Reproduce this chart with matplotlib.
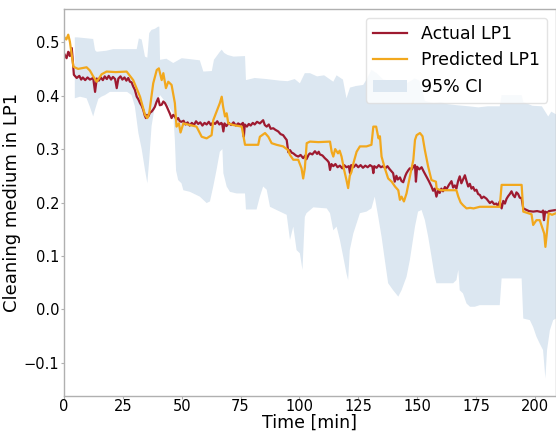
import numpy as np
import matplotlib
matplotlib.use('Agg')
import matplotlib.pyplot as plt
from matplotlib.patches import Patch
from matplotlib.lines import Line2D

# actual LP1 (time in min, value)
t_act = [0, 1.1, 1.8, 2.5, 3.3, 4.2, 5.4, 6.5, 7.3, 8, 9, 10, 11, 12.4, 13.2, 13.9, 14.8, 15.6,
         16.5, 17.3, 18.2, 19, 20, 20.8, 21.7, 22.4, 23.1, 24, 24.8, 25.7, 26.5, 27.3, 28.0,
         28.7, 29.4, 30.1, 30.9, 31.6, 32.3, 33, 33.7, 34.3, 34.8, 35.3, 35.8, 36.5, 37.2,
         37.9, 38.6, 39.3, 40.0, 40.7, 41.5, 42.2, 42.9, 43.6, 44.3, 45, 45.7, 46.4, 47.1,
         47.8, 48.5, 49.2, 49.9, 50.8, 51.6, 52.5, 53.4, 54.3, 55.2, 56.1, 57, 57.9, 58.8,
         59.7, 60.6, 61.5, 62.4, 63.3, 64.2, 65.1, 66, 66.8, 67.2, 67.7, 68.2, 69, 70, 71, 72,
         73, 74, 75, 76.0, 76.4, 76.8, 77.7, 78.5, 79.3, 80.2, 81, 82, 83.2, 84.6, 85.3, 86.1,
         87, 87.8, 88.9, 89.8, 91, 92, 93.1, 93.9, 94.6, 95.3, 96.0, 96.8, 97.4, 98.5, 99.5,
         100.5, 101.6, 102.5, 103.0, 104, 104.5, 105.5, 106.6, 107.5, 108.2, 108.7, 109.8,
         110.8, 111.8, 112.5, 113.0, 113.6, 114.4, 115.3, 116.2, 117.2, 118.2, 119, 120,
         121.0, 121.5, 122, 123, 124, 125, 126, 127, 128, 129, 130, 131.0, 131.4, 131.8,
         132.8, 133.7, 134.6, 135.6, 136.5, 137.4, 138.4, 139.2, 139.8, 140.5, 141.2, 141.8,
         142.7, 143.4, 144.1, 145.0, 145.5, 146.2, 146.9, 147.8, 148.5, 149.1, 149.5, 150.0,
         150.9, 151.9, 152.8, 154.0, 155, 156.1, 156.8, 157.5, 158.2, 158.9, 159.6, 160.3,
         161, 161.8, 162.5, 163.5, 164.6, 165.3, 166, 166.7, 167.4, 168.1, 168.8, 169.5,
         170.3, 171, 171.7, 172.4, 173.1, 173.8, 174.5, 175.2, 175.9, 176.7, 177.4, 178.3,
         179.5, 180.2, 180.9, 181.8, 182.7, 183.7, 184.4, 185.1, 185.9, 186.6, 187.3, 188.0,
         188.7, 189.4, 190.1, 190.8, 191.5, 192.2, 192.9, 193.6, 194.4, 195.1, 196.5, 197.5,
         199.3, 201, 202.9, 203.5, 203.9, 204.4, 205.3, 206, 207.5, 209]
v_act = [0.479, 0.470, 0.482, 0.474, 0.489, 0.439, 0.433, 0.437, 0.430, 0.434, 0.429, 0.434,
         0.430, 0.433, 0.407, 0.432, 0.428, 0.434, 0.429, 0.436, 0.431, 0.437, 0.430, 0.435,
         0.431, 0.414, 0.432, 0.436, 0.430, 0.434, 0.428, 0.433, 0.426, 0.425, 0.417, 0.411,
         0.398, 0.393, 0.386, 0.381, 0.373, 0.363, 0.358, 0.364, 0.361, 0.368, 0.370, 0.374,
         0.379, 0.388, 0.395, 0.382, 0.383, 0.389, 0.386, 0.380, 0.373, 0.366, 0.358, 0.364,
         0.361, 0.355, 0.358, 0.352, 0.351, 0.353, 0.346, 0.350, 0.344, 0.349, 0.345, 0.352,
         0.347, 0.350, 0.344, 0.349, 0.346, 0.351, 0.345, 0.350, 0.347, 0.352, 0.346, 0.349,
         0.347, 0.333, 0.348, 0.343, 0.349, 0.345, 0.350, 0.344, 0.348, 0.345, 0.349, 0.323,
         0.346, 0.342, 0.347, 0.344, 0.349, 0.346, 0.351, 0.348, 0.354, 0.345, 0.342, 0.346,
         0.338, 0.339, 0.336, 0.333, 0.328, 0.326, 0.321, 0.317, 0.294, 0.298, 0.293, 0.292,
         0.288, 0.286, 0.289, 0.283, 0.288, 0.281, 0.290, 0.292, 0.290, 0.296, 0.291, 0.295,
         0.290, 0.288, 0.283, 0.279, 0.275, 0.261, 0.272, 0.268, 0.272, 0.266, 0.269, 0.264,
         0.270, 0.266, 0.268, 0.255, 0.270, 0.266, 0.271, 0.266, 0.270, 0.265, 0.269, 0.266,
         0.270, 0.267, 0.255, 0.268, 0.265, 0.270, 0.266, 0.268, 0.264, 0.268, 0.262, 0.258,
         0.255, 0.239, 0.250, 0.243, 0.247, 0.240, 0.238, 0.250, 0.255, 0.260, 0.264, 0.262,
         0.268, 0.270, 0.239, 0.267, 0.262, 0.266, 0.258, 0.248, 0.240, 0.230, 0.222, 0.226,
         0.211, 0.222, 0.218, 0.226, 0.221, 0.229, 0.225, 0.233, 0.240, 0.228, 0.232, 0.226,
         0.240, 0.249, 0.236, 0.243, 0.251, 0.240, 0.230, 0.235, 0.226, 0.229, 0.222, 0.224,
         0.216, 0.214, 0.208, 0.211, 0.207, 0.203, 0.199, 0.202, 0.197, 0.198, 0.193, 0.202,
         0.189, 0.203, 0.198, 0.207, 0.212, 0.216, 0.221, 0.214, 0.210, 0.219, 0.216, 0.209,
         0.208, 0.189, 0.186, 0.184, 0.183, 0.184, 0.182, 0.185, 0.167, 0.183, 0.181, 0.184,
         0.185, 0.186]

# predicted LP1
t_pred = [0, 1.0, 1.8, 2.5, 4.0, 6, 9.6, 11, 12.4, 13.9, 16.0, 18.1, 22, 26.6, 29.4, 32.3,
          34.4, 35.4, 36.2, 37.9, 39.4, 40.3, 41.5, 42.2, 43.3, 44.3, 45.7, 47.1, 47.8, 48.8,
          49.5, 50.7, 53.5, 56.3, 58.5, 60.6, 62.7, 63.4, 64.8, 66.2, 67.0, 67.6, 68.4, 69.1,
          69.8, 71.9, 75.5, 76.9, 82.5, 83.2, 85.4, 86.8, 88.2, 90.3, 93.1, 95.2, 96.0, 97.4,
          99.5, 100.9, 101.6, 102.3, 103.1, 104.5, 108, 113.0, 113.7, 114.4, 115.2, 116.4,
          117.1, 117.9, 119.0, 120.0, 120.7, 121.4, 122.1, 123.1, 124.3, 125.7, 128.5, 130.0,
          130.6, 131.4, 132.6, 133.6, 134.2, 134.9, 136.3, 137.7, 139.2, 140.6, 142.0, 142.7,
          143.4, 144.4, 145.5, 146.9, 148.4, 149.1, 149.8, 151.2, 152.3, 153.3, 154.7, 156.1,
          158.0, 158.3, 160, 166.7, 167.5, 168.5, 169.5, 171.0, 172.5, 174, 176.6, 185.1,
          185.9, 194.4, 195.1, 197.2, 198.6, 199.3, 200.7, 202.1, 204.0, 204.5, 205.1, 205.9,
          207.3, 209]
v_pred = [0.510, 0.505, 0.514, 0.501, 0.454, 0.450, 0.453, 0.447, 0.436, 0.426, 0.440, 0.445,
          0.444, 0.445, 0.429, 0.398, 0.364, 0.358, 0.367, 0.423, 0.448, 0.451, 0.429, 0.442,
          0.414, 0.426, 0.420, 0.386, 0.342, 0.348, 0.331, 0.348, 0.345, 0.342, 0.323, 0.320,
          0.326, 0.354, 0.370, 0.386, 0.398, 0.379, 0.361, 0.367, 0.348, 0.345, 0.342, 0.308,
          0.308, 0.323, 0.330, 0.323, 0.311, 0.308, 0.305, 0.298, 0.289, 0.280, 0.280, 0.264,
          0.245, 0.264, 0.311, 0.314, 0.313, 0.314, 0.295, 0.286, 0.300, 0.292, 0.297, 0.286,
          0.261, 0.242, 0.227, 0.250, 0.257, 0.276, 0.295, 0.305, 0.305, 0.307, 0.308, 0.342,
          0.342, 0.320, 0.324, 0.286, 0.264, 0.245, 0.239, 0.230, 0.223, 0.205, 0.211, 0.202,
          0.217, 0.248, 0.280, 0.317, 0.326, 0.330, 0.324, 0.298, 0.267, 0.242, 0.239, 0.226,
          0.223, 0.223, 0.211, 0.200, 0.195, 0.189, 0.190, 0.189, 0.192, 0.192, 0.233, 0.233,
          0.183, 0.180, 0.178, 0.158, 0.167, 0.167, 0.142, 0.117, 0.142, 0.180, 0.177, 0.180]

# 95% CI upper / lower edges
t_up = [4.6, 5.7, 12.4, 13.2, 13.9, 18, 20.9, 30.9, 31.8, 33, 34.4, 35.4, 36.2, 37.2, 38.6,
        40.0, 40.5, 40.8, 43.5, 46.4, 50, 54, 57.7, 59.2, 62.8, 63.7, 66.2, 67, 68, 69.5, 72,
        76.9, 77.3, 81, 86, 91.7, 95, 98, 100.2, 102.3, 104.5, 107.5, 110.5, 114.4, 115.8,
        118.5, 120.0, 121.5, 124, 127.1, 128.5, 130.6, 132.8, 135.6, 138, 142.7, 146, 149,
        151, 153.3, 157, 160, 163, 167, 172, 176, 180, 185.1, 185.9, 194.4, 195.1, 199, 203,
        205.7, 207, 209]
v_up = [0.509, 0.509, 0.506, 0.485, 0.482, 0.484, 0.487, 0.487, 0.507, 0.505, 0.473, 0.471,
        0.517, 0.523, 0.525, 0.529, 0.529, 0.467, 0.469, 0.461, 0.470, 0.468, 0.466, 0.445,
        0.446, 0.467, 0.482, 0.486, 0.480, 0.476, 0.473, 0.474, 0.429, 0.433, 0.431, 0.428,
        0.427, 0.431, 0.423, 0.442, 0.442, 0.436, 0.438, 0.426, 0.438, 0.430, 0.395, 0.415,
        0.418, 0.420, 0.430, 0.448, 0.442, 0.430, 0.428, 0.423, 0.424, 0.432, 0.428, 0.390,
        0.386, 0.388, 0.384, 0.382, 0.380, 0.378, 0.380, 0.380, 0.401, 0.401, 0.388, 0.381,
        0.380, 0.361, 0.370, 0.365]
t_lo = [4.6, 6.8, 9.6, 11.0, 12.4, 13.2, 14.6, 15.9, 17.4, 19.5, 26.8, 28.7, 30.1, 31.6, 33.0,
        34.4, 35.4, 36.2, 37.2, 38.6, 40.0, 40.8, 43.5, 46.4, 47.1, 47.6, 48.5, 49.9, 50.7,
        53.5, 54.9, 57.7, 60.6, 62.0, 63.4, 64.8, 66.2, 67.3, 67.7, 69.1, 70.5, 73.3, 76.9,
        77.3, 81.8, 83.2, 84.6, 86.1, 87.5, 90.3, 94.6, 96.0, 97.4, 98.8, 100.2, 101.3, 102.3,
        103.0, 105.9, 111.6, 113.0, 114.4, 115.8, 117.2, 118.6, 120.0, 120.7, 121.4, 122.9,
        124.3, 125.7, 128.5, 130.6, 132.0, 133.5, 134.9, 136.3, 137.7, 139.8, 142.0, 143.4,
        145.5, 146.9, 149.1, 150.4, 151.9, 153.3, 154.7, 156.1, 157.5, 158.2, 165.3, 166.7,
        167.5, 168.1, 169.5, 171.0, 172.5, 174.5, 176.6, 185.1, 185.9, 194.4, 195.1, 197.9,
        199.3, 200.7, 202.1, 203.5, 204.5, 205.2, 206.4, 207.8, 209]
v_lo = [0.395, 0.398, 0.395, 0.379, 0.361, 0.374, 0.394, 0.398, 0.401, 0.407, 0.407, 0.401,
        0.380, 0.330, 0.300, 0.261, 0.236, 0.280, 0.343, 0.380, 0.392, 0.401, 0.386, 0.367,
        0.317, 0.260, 0.242, 0.236, 0.223, 0.220, 0.217, 0.211, 0.199, 0.202, 0.230, 0.261,
        0.295, 0.300, 0.255, 0.230, 0.220, 0.217, 0.217, 0.187, 0.187, 0.211, 0.230, 0.224,
        0.192, 0.186, 0.177, 0.130, 0.155, 0.111, 0.105, 0.074, 0.173, 0.180, 0.191, 0.189,
        0.180, 0.148, 0.155, 0.130, 0.099, 0.067, 0.055, 0.111, 0.142, 0.161, 0.180, 0.183,
        0.189, 0.211, 0.173, 0.136, 0.092, 0.049, 0.036, 0.024, 0.036, 0.061, 0.092, 0.155,
        0.183, 0.186, 0.167, 0.136, 0.099, 0.061, 0.049, 0.049, 0.055, 0.074, 0.036, 0.030,
        0.011, 0.005, 0.005, 0.008, 0.008, 0.058, 0.058, -0.017, -0.020, -0.033, -0.051,
        -0.064, -0.076, -0.129, -0.076, -0.039, -0.020, -0.017]

red = '#9e1a30'
orange = '#f2a81d'
ci_blue = '#dce7f1'

fig = plt.figure(figsize=(5.56, 4.32), dpi=100)
ax = fig.add_axes([0.1151, 0.0833, 0.8849, 0.8958])

# CI band as one polygon: upper edge forward, lower edge back
ax.fill(np.concatenate([t_up, t_lo[::-1]]), np.concatenate([v_up, v_lo[::-1]]),
        color=ci_blue, lw=0)
ax.plot(t_act, v_act, color=red, lw=1.6)
ax.plot(t_pred, v_pred, color=orange, lw=1.6)

ax.set_xlim(0, 209)
ax.set_ylim(-0.162, 0.562)
ax.set_xticks([0, 25, 50, 75, 100, 125, 150, 175, 200])
ax.set_yticks([-0.1, 0.0, 0.1, 0.2, 0.3, 0.4, 0.5])
ax.tick_params(labelsize=10.5, length=2.5, width=0.8, color='#b0b0b0', pad=1)
ax.tick_params(axis='x', pad=0)
for s in ax.spines.values():
    s.set_color('#b0b0b0')
    s.set_linewidth(1)

ax.set_xlabel('Time [min]', fontsize=12.5)
ax.set_ylabel('Cleaning medium in LP1', fontsize=13)
ax.xaxis.set_label_coords(0.5, -0.046)
ax.yaxis.set_label_coords(-0.087, 0.5)

handles = [Line2D([], [], color=red, lw=1.6),
           Line2D([], [], color=orange, lw=1.6),
           Patch(facecolor=ci_blue, edgecolor='none')]
ax.legend(handles, ['Actual LP1', 'Predicted LP1', '95% CI'], loc='upper right',
          fontsize=12.5, framealpha=0.8, edgecolor='#dddddd', fancybox=True)

fig.savefig('out.png', dpi=100)
